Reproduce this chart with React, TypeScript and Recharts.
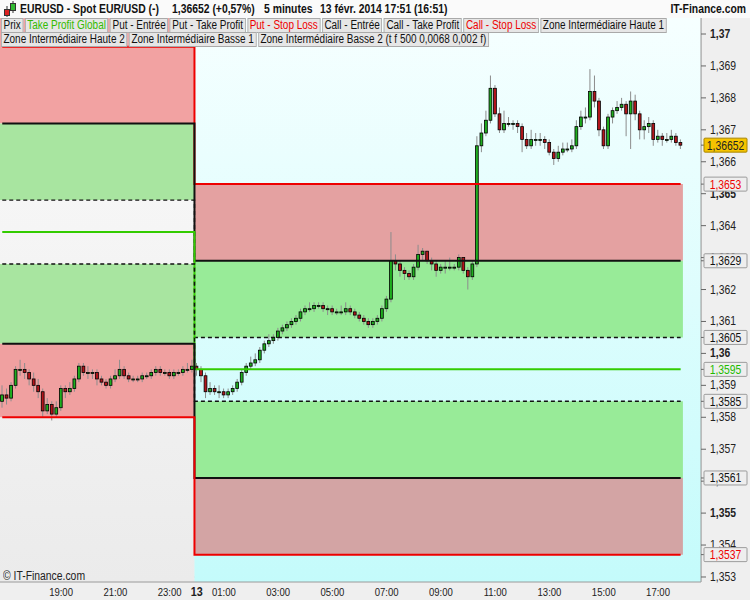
import React from 'react';
import {
  ComposedChart,
  Bar,
  Line,
  XAxis,
  YAxis,
  CartesianGrid,
  ReferenceArea,
} from 'recharts';

const FONT = "'Liberation Sans', Arial, sans-serif";
const NARROW = 0.83; // the original uses a narrow face; squeeze Liberation Sans to match

// 10-minute slots, minutes from midnight on the 13th (16:50 on the 12th .. 18:30 on the 13th)
const slotStart = -430;
const slotCount = 155;

const opens = [
  1.3585, 1.3587, 1.3586, 1.3590, 1.3595, 1.3595, 1.3594, 1.3592, 1.3590, 1.3588,
  1.3582, 1.3584, 1.3581, 1.3583, 1.3589, 1.3588, 1.3589, 1.3592, 1.3596, 1.3594,
  1.3594, 1.3594, 1.3592, 1.3591, 1.3590, 1.3592, 1.3593, 1.3595, 1.3593, 1.3592,
  1.3592, 1.3592, 1.3593, 1.3593, 1.3594, 1.3595, 1.3594, 1.3594, 1.3593, 1.3594,
  1.3594, 1.3595, 1.3595, 1.3596, 1.3595, 1.3593, 1.3588, 1.3589, 1.3588, 1.3588,
  1.3587, 1.3588, 1.3589, 1.3591, 1.3594, 1.3596, 1.3597, 1.3598, 1.3601, 1.3603,
  1.3604, 1.3605, 1.3607, 1.3608, 1.3609, 1.3610, 1.3611, 1.3613, 1.3614, 1.3614,
  1.3615, 1.3615, 1.3614, 1.3614, 1.3613, 1.3613, 1.3613, 1.3614, 1.3613, 1.3612,
  1.3611, 1.3610, 1.3609, 1.3610, 1.3611, 1.3614, 1.3617, 1.3629, 1.3628, 1.3626,
  1.3625, 1.3624, 1.3627, 1.3631, 1.3632, 1.3629, 1.3628, 1.3626, 1.3627, 1.3627,
  1.3627, 1.3627, 1.3630, 1.3626, 1.3624, 1.3628, 1.3665, 1.3669, 1.3673, 1.3683,
  1.3675, 1.3670, 1.3672, 1.3672, 1.3672, 1.3671, 1.3667, 1.3665, 1.3667, 1.3667,
  1.3667, 1.3666, 1.3663, 1.3661, 1.3663, 1.3664, 1.3664, 1.3665, 1.3671, 1.3674,
  1.3674, 1.3682, 1.3679, 1.3670, 1.3665, 1.3674, 1.3676, 1.3677, 1.3678, 1.3675,
  1.3679, 1.3675, 1.3670, 1.3671, 1.3672, 1.3667, 1.3668, 1.3667, 1.3667, 1.3668,
  1.3666,
];
const highs = [
  1.3590, 1.3589, 1.3591, 1.3596, 1.3598, 1.3597, 1.3595, 1.3594, 1.3592, 1.3589,
  1.3586, 1.3585, 1.3585, 1.3590, 1.3590, 1.3591, 1.3593, 1.3597, 1.3597, 1.3596,
  1.3595, 1.3595, 1.3593, 1.3592, 1.3593, 1.3595, 1.3598, 1.3596, 1.3594, 1.3593,
  1.3593, 1.3594, 1.3594, 1.3595, 1.3596, 1.3596, 1.3595, 1.3595, 1.3595, 1.3595,
  1.3596, 1.3597, 1.3598, 1.3597, 1.3596, 1.3594, 1.3591, 1.3590, 1.3590, 1.3589,
  1.3589, 1.3590, 1.3592, 1.3595, 1.3597, 1.3599, 1.3600, 1.3602, 1.3604, 1.3606,
  1.3606, 1.3608, 1.3609, 1.3610, 1.3611, 1.3612, 1.3614, 1.3615, 1.3616, 1.3616,
  1.3616, 1.3616, 1.3615, 1.3615, 1.3614, 1.3615, 1.3616, 1.3615, 1.3614, 1.3613,
  1.3612, 1.3611, 1.3611, 1.3612, 1.3615, 1.3618, 1.3638, 1.3631, 1.3629, 1.3627,
  1.3626, 1.3628, 1.3634, 1.3633, 1.3632, 1.3630, 1.3629, 1.3628, 1.3629, 1.3630,
  1.3628, 1.3631, 1.3630, 1.3627, 1.3629, 1.3668, 1.3672, 1.3676, 1.3687, 1.3684,
  1.3677, 1.3676, 1.3674, 1.3673, 1.3673, 1.3672, 1.3669, 1.3670, 1.3669, 1.3669,
  1.3668, 1.3667, 1.3664, 1.3665, 1.3666, 1.3666, 1.3667, 1.3673, 1.3676, 1.3677,
  1.3689, 1.3687, 1.3680, 1.3671, 1.3675, 1.3677, 1.3679, 1.3680, 1.3679, 1.3682,
  1.3681, 1.3676, 1.3673, 1.3674, 1.3673, 1.3670, 1.3669, 1.3669, 1.3670, 1.3669,
  1.3667,
];
const lows = [
  1.3583, 1.3584, 1.3585, 1.3589, 1.3593, 1.3592, 1.3590, 1.3588, 1.3586, 1.3580,
  1.3581, 1.3579, 1.3580, 1.3582, 1.3586, 1.3587, 1.3588, 1.3591, 1.3593, 1.3592,
  1.3592, 1.3590, 1.3590, 1.3589, 1.3589, 1.3591, 1.3592, 1.3592, 1.3591, 1.3591,
  1.3591, 1.3591, 1.3592, 1.3592, 1.3593, 1.3593, 1.3593, 1.3592, 1.3592, 1.3593,
  1.3593, 1.3594, 1.3594, 1.3593, 1.3591, 1.3586, 1.3587, 1.3587, 1.3586, 1.3586,
  1.3586, 1.3587, 1.3588, 1.3590, 1.3593, 1.3595, 1.3596, 1.3597, 1.3600, 1.3602,
  1.3603, 1.3604, 1.3606, 1.3607, 1.3608, 1.3609, 1.3610, 1.3612, 1.3613, 1.3613,
  1.3614, 1.3613, 1.3612, 1.3612, 1.3612, 1.3612, 1.3612, 1.3612, 1.3611, 1.3610,
  1.3609, 1.3608, 1.3608, 1.3609, 1.3610, 1.3613, 1.3616, 1.3626, 1.3624, 1.3623,
  1.3623, 1.3623, 1.3626, 1.3629, 1.3628, 1.3626, 1.3624, 1.3625, 1.3625, 1.3626,
  1.3626, 1.3626, 1.3625, 1.3620, 1.3623, 1.3627, 1.3663, 1.3668, 1.3672, 1.3674,
  1.3669, 1.3669, 1.3671, 1.3670, 1.3669, 1.3663, 1.3664, 1.3664, 1.3665, 1.3665,
  1.3664, 1.3662, 1.3659, 1.3660, 1.3662, 1.3663, 1.3663, 1.3664, 1.3670, 1.3672,
  1.3673, 1.3677, 1.3668, 1.3664, 1.3664, 1.3672, 1.3675, 1.3676, 1.3668, 1.3664,
  1.3673, 1.3667, 1.3667, 1.3669, 1.3665, 1.3666, 1.3665, 1.3666, 1.3666, 1.3665,
  1.3664,
];
const closes = [
  1.3587, 1.3586, 1.3590, 1.3595, 1.3595, 1.3594, 1.3592, 1.3590, 1.3588, 1.3582,
  1.3584, 1.3581, 1.3583, 1.3589, 1.3588, 1.3589, 1.3592, 1.3596, 1.3594, 1.3594,
  1.3594, 1.3592, 1.3591, 1.3590, 1.3592, 1.3593, 1.3595, 1.3593, 1.3592, 1.3592,
  1.3592, 1.3593, 1.3593, 1.3594, 1.3595, 1.3594, 1.3594, 1.3593, 1.3594, 1.3594,
  1.3595, 1.3595, 1.3596, 1.3595, 1.3593, 1.3588, 1.3589, 1.3588, 1.3588, 1.3587,
  1.3588, 1.3589, 1.3591, 1.3594, 1.3596, 1.3597, 1.3598, 1.3601, 1.3603, 1.3604,
  1.3605, 1.3607, 1.3608, 1.3609, 1.3610, 1.3611, 1.3613, 1.3614, 1.3614, 1.3615,
  1.3615, 1.3614, 1.3614, 1.3613, 1.3613, 1.3613, 1.3614, 1.3613, 1.3612, 1.3611,
  1.3610, 1.3609, 1.3610, 1.3611, 1.3614, 1.3617, 1.3629, 1.3628, 1.3626, 1.3625,
  1.3624, 1.3627, 1.3631, 1.3632, 1.3629, 1.3628, 1.3626, 1.3627, 1.3627, 1.3627,
  1.3627, 1.3630, 1.3626, 1.3624, 1.3628, 1.3665, 1.3669, 1.3673, 1.3683, 1.3675,
  1.3670, 1.3672, 1.3672, 1.3672, 1.3671, 1.3667, 1.3665, 1.3667, 1.3667, 1.3667,
  1.3666, 1.3663, 1.3661, 1.3663, 1.3664, 1.3664, 1.3665, 1.3671, 1.3674, 1.3674,
  1.3682, 1.3679, 1.3670, 1.3665, 1.3674, 1.3676, 1.3677, 1.3678, 1.3675, 1.3679,
  1.3675, 1.3670, 1.3671, 1.3672, 1.3667, 1.3668, 1.3667, 1.3667, 1.3668, 1.3666,
  1.36652,
];

// order strategy levels: value on the 12th, value on the 13th
const levelNames = [
  'Put - Stop Loss', 'Put - Entrée', 'Put - Take Profit', 'Take Profit Global',
  'Call - Take Profit', 'Call - Entrée', 'Call - Stop Loss',
];
const levels12 = [1.3696, 1.3672, 1.3648, 1.3638, 1.3628, 1.3603, 1.3580];
const levels13 = [1.3653, 1.3629, 1.3605, 1.3595, 1.3585, 1.3561, 1.3537];
const levelColors = ['#ee0000', '#111111', '#111111', '#33cc00', '#111111', '#111111', '#ee0000'];
const levelDash = ['', '', '4 3', '', '4 3', '', ''];
const tagColors = ['#ee0000', '#111111', '#111111', '#22bb00', '#111111', '#111111', '#ee0000'];

const lastPrice = 1.36652;

const yTicks = [
  1.353, 1.354, 1.355, 1.356, 1.357, 1.358, 1.359, 1.36, 1.361,
  1.362, 1.363, 1.364, 1.365, 1.366, 1.367, 1.368, 1.369, 1.37,
];
const xTickSlots = [-300, -180, -60, 0, 60, 180, 300, 420, 540, 660, 780, 900, 1020];
const xTickLabels = [
  '19:00', '21:00', '23:00', '13', '01:00', '03:00', '05:00',
  '07:00', '09:00', '11:00', '13:00', '15:00', '17:00',
];

const legendRow1 = [
  'Prix', 'Take Profit Global', 'Put - Entrée', 'Put - Take Profit', 'Put - Stop Loss',
  'Call - Entrée', 'Call - Take Profit', 'Call - Stop Loss', 'Zone Intermédiaire Haute 1',
];
const legendRow2 = [
  'Zone Intermédiaire Haute 2', 'Zone Intermédiaire Basse 1',
  'Zone Intermédiaire Basse 2 (t f 500 0,0068 0,002 f)',
];
const legendColors: Record<string, string> = {
  'Take Profit Global': '#33bb00',
  'Put - Stop Loss': '#ee0000',
  'Call - Stop Loss': '#ee0000',
};

const levelKeys = levelNames.map((_, i) => `L${i}`);
const rows = Array.from({ length: slotCount }, (_, i) => {
  const t = slotStart + i * 10;
  const row: any = { t };
  if (i < closes.length) {
    row.open = opens[i];
    row.high = highs[i];
    row.low = lows[i];
    row.close = closes[i];
    levelKeys.forEach((k, j) => {
      row[k] = t < 0 ? levels12[j] : levels13[j];
    });
  }
  return row;
});
const firstSlot = rows[0].t;
const lastDay12 = -10;
const lastCandle = rows[closes.length - 1].t;
const plotTop = 1.3705;
const yDomain = [1.352843, 1.370501];
// price tags come last so they are painted over the regular tick labels
const axisValues = [...yTicks, ...levels13, lastPrice];

const fmt = (v: number, d: number) => v.toFixed(d).replace('.', ',');

function Candle(props: any) {
  const { x, y, width, height, payload } = props;
  if (!payload || payload.open == null || height == null) return null;
  const { open, close, high, low } = payload;
  const top = Math.min(y, y + height);
  const h = Math.abs(height);
  const k = high > low ? h / (high - low) : 0;
  const yO = top + (high - open) * k;
  const yC = top + (high - close) * k;
  const bodyTop = Math.min(yO, yC);
  const bodyH = Math.max(Math.abs(yO - yC), 1);
  const cx = x + width / 2;
  const up = close >= open;
  return (
    <g>
      <line x1={cx} x2={cx} y1={top} y2={top + h} stroke="#8c8c8c" strokeWidth={1} />
      <rect
        x={cx - 1.4}
        y={bodyTop}
        width={2.8}
        height={bodyH}
        fill={up ? '#1fae1f' : '#b3151b'}
        stroke="#000"
        strokeWidth={0.8}
      />
    </g>
  );
}

function YTick(props: any) {
  const { x, y, payload, index } = props;
  const v = payload.value;
  if (index >= yTicks.length) {
    const last = v === lastPrice;
    const i = levels13.indexOf(v);
    const bx = x - 4;
    return (
      <g>
        <rect
          x={bx}
          y={y - 7}
          width={43}
          height={14}
          fill={last ? '#f5c400' : '#eeeeee'}
          stroke={last ? '#a88400' : '#9c9c9c'}
          strokeWidth={1}
          rx={1}
        />
        <text
          transform={`translate(${bx + 21.5},${y + 4.5}) scale(${NARROW},1)`}
          textAnchor="middle"
          fontSize={12.5}
          fontFamily={FONT}
          fill={last ? '#222' : tagColors[i]}
        >
          {last ? fmt(v, 5) : fmt(v, 4)}
        </text>
      </g>
    );
  }
  const major = Math.round(v * 1000) % 5 === 0;
  const text = String(Number(v.toFixed(3))).replace('.', ',');
  return (
    <text
      transform={`translate(${x + 2},${y + 4}) scale(${NARROW},1)`}
      fontSize={12.5}
      fontFamily={FONT}
      fontWeight={major ? 700 : 400}
      fill="#222"
    >
      {text}
    </text>
  );
}

function XTick(props: any) {
  const { x, payload } = props;
  const idx = xTickSlots.indexOf(payload.value);
  const label = xTickLabels[idx];
  const bold = label === '13';
  return (
    <text
      transform={`translate(${x},596) scale(${NARROW},1)`}
      textAnchor="middle"
      fontSize={bold ? 13 : 11.5}
      fontWeight={bold ? 700 : 400}
      fontFamily={FONT}
      fill="#222"
    >
      {label}
    </text>
  );
}

function HeaderIcon() {
  return (
    <svg width={16} height={16} style={{ position: 'absolute', left: 2, top: 1 }}>
      <line x1={5} x2={5} y1={5} y2={16} stroke="#333" />
      <rect x={2.5} y={8.5} width={5} height={6} fill="#d22" stroke="#333" />
      <line x1={11} x2={11} y1={0} y2={12} stroke="#333" />
      <rect x={8.5} y={2.5} width={5} height={7} fill="#3b3" stroke="#333" />
    </svg>
  );
}

const squeeze = (origin: string): React.CSSProperties => ({
  position: 'absolute',
  transform: `scaleX(${NARROW})`,
  transformOrigin: origin,
  whiteSpace: 'nowrap',
});

export default function App() {
  const legendBox = (name: string) => (
    <span
      key={name}
      style={{
        display: 'inline-block',
        height: 13,
        lineHeight: '13px',
        padding: '0 2px',
        marginRight: 2,
        border: '1px solid #a9a9a9',
        background: '#e6e6e6',
        color: legendColors[name] ?? '#111',
        whiteSpace: 'nowrap',
      }}
    >
      {name}
    </span>
  );

  return (
    <div
      style={{
        position: 'absolute',
        left: 0,
        top: 0,
        width: 750,
        height: 600,
        background: '#efefef',
        fontFamily: FONT,
        overflow: 'hidden',
      }}
    >
      <svg width={0} height={0} style={{ position: 'absolute' }}>
        <defs>
          <linearGradient id="bgRight" x1="0" y1="0" x2="0" y2="1">
            <stop offset="0%" stopColor="#f6ffff" />
            <stop offset="100%" stopColor="#c4fbfb" />
          </linearGradient>
          <linearGradient id="bgLeft" x1="0" y1="0" x2="0" y2="1">
            <stop offset="0%" stopColor="#fbfbfb" />
            <stop offset="100%" stopColor="#ebebeb" />
          </linearGradient>
        </defs>
      </svg>

      <ComposedChart
        width={750}
        height={600}
        data={rows}
        margin={{ top: 18, right: 0, bottom: 0, left: 0 }}
        barCategoryGap={0}
      >
        {/* chart background, one per day */}
        <ReferenceArea x1={firstSlot} x2={lastDay12} fill="url(#bgLeft)" fillOpacity={1} stroke="none" />
        <ReferenceArea x1={0} fill="url(#bgRight)" fillOpacity={1} stroke="none" />

        {/* zones of the 12th */}
        <ReferenceArea x1={firstSlot} x2={lastDay12} y1={levels12[1]} y2={plotTop} fill="#f2a2a2" fillOpacity={1} stroke="none" />
        <ReferenceArea x1={firstSlot} x2={lastDay12} y1={levels12[2]} y2={levels12[1]} fill="#a8e5a0" fillOpacity={1} stroke="none" />
        <ReferenceArea x1={firstSlot} x2={lastDay12} y1={levels12[5]} y2={levels12[4]} fill="#a8e5a0" fillOpacity={1} stroke="none" />
        <ReferenceArea x1={firstSlot} x2={lastDay12} y1={levels12[6]} y2={levels12[5]} fill="#f0a0a0" fillOpacity={1} stroke="none" />

        {/* zones of the 13th */}
        <ReferenceArea x1={0} x2={lastCandle} y1={levels13[1]} y2={levels13[0]} fill="#e4a1a1" fillOpacity={1} stroke="none" />
        <ReferenceArea x1={0} x2={lastCandle} y1={levels13[2]} y2={levels13[1]} fill="#98eb98" fillOpacity={1} stroke="none" />
        <ReferenceArea x1={0} x2={lastCandle} y1={levels13[5]} y2={levels13[4]} fill="#98eb98" fillOpacity={1} stroke="none" />
        <ReferenceArea x1={0} x2={lastCandle} y1={levels13[6]} y2={levels13[5]} fill="#d3a4a4" fillOpacity={1} stroke="none" />

        <CartesianGrid stroke="rgba(0,0,0,0.15)" strokeWidth={1} horizontalValues={yTicks} />

        <XAxis
          dataKey="t"
          type="category"
          ticks={xTickSlots}
          interval={0}
          height={18}
          tick={<XTick />}
          tickLine={false}
          axisLine={{ stroke: '#9a9a9a' }}
        />
        <YAxis
          orientation="right"
          width={49}
          domain={yDomain}
          allowDataOverflow
          ticks={axisValues}
          interval={0}
          tick={<YTick />}
          tickSize={5}
          tickLine={{ stroke: '#666' }}
          axisLine={{ stroke: '#9a9a9a' }}
        />

        {levelKeys.map((k, i) => (
          <Line
            key={k}
            dataKey={k}
            name={levelNames[i]}
            type="step"
            stroke={levelColors[i]}
            strokeWidth={levelDash[i] ? 1.4 : 2}
            strokeDasharray={levelDash[i] || undefined}
            dot={false}
            activeDot={false}
            isAnimationActive={false}
          />
        ))}

        <Bar
          dataKey={(d: any) => (d.low == null ? null : [d.low, d.high])}
          name="Prix"
          barSize={4}
          shape={<Candle />}
          isAnimationActive={false}
        />
      </ComposedChart>

      {/* header */}
      <div
        style={{
          position: 'absolute',
          left: 0,
          top: 0,
          width: 750,
          height: 18,
          background: '#fafafa',
          fontSize: 12.5,
          fontWeight: 700,
          lineHeight: '18px',
          color: '#111',
        }}
      >
        <HeaderIcon />
        <span style={{ ...squeeze('left center'), left: 20 }}>EURUSD - Spot EUR/USD (-)</span>
        <span style={{ ...squeeze('left center'), left: 172 }}>1,36652 (+0,57%)</span>
        <span style={{ ...squeeze('left center'), left: 264 }}>5 minutes</span>
        <span style={{ ...squeeze('left center'), left: 320 }}>13 févr. 2014 17:51 (16:51)</span>
        <span style={{ ...squeeze('right center'), right: 4 }}>IT-Finance.com</span>
      </div>

      {/* legend */}
      <div style={{ ...squeeze('left top'), left: 1, top: 18, fontSize: 12 }}>
        {legendRow1.map(legendBox)}
      </div>
      <div style={{ ...squeeze('left top'), left: 1, top: 32, fontSize: 12 }}>
        {legendRow2.map(legendBox)}
      </div>

      <div style={{ ...squeeze('left top'), left: 3, top: 569, fontSize: 12.5, color: '#222' }}>
        © IT-Finance.com
      </div>
    </div>
  );
}
